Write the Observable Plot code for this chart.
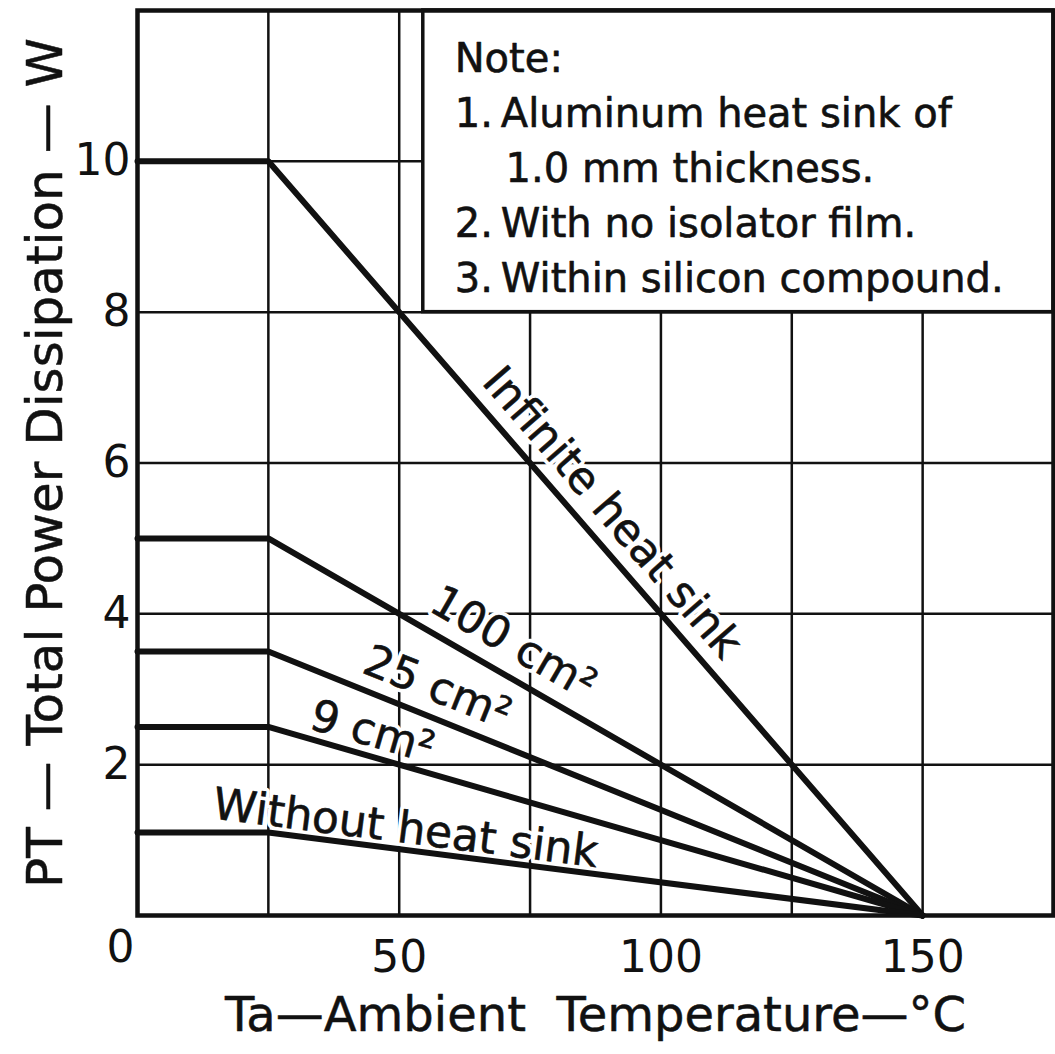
<!DOCTYPE html>
<html><head><meta charset="utf-8">
<script src="https://cdn.jsdelivr.net/npm/d3@7"></script>
<script src="https://cdn.jsdelivr.net/npm/@observablehq/plot@0.6"></script>
<style>
html,body{margin:0;padding:0;background:#fff;}
#chart svg{display:block;}
g[aria-label="curve-label"] text, g[aria-label="curve-label-halo"] text {letter-spacing:1px;}
g[aria-label="y-title"] text {letter-spacing:1.5px;}
</style>
</head><body><div id="chart"></div>
<script>
// ---- data ----
const temps = [0, 25, 150];                 // Ta (°C) breakpoints
const infiniteSink = [10, 10, 0];           // W
const sink100 = [5, 5, 0];
const sink25 = [3.5, 3.5, 0];
const sink9 = [2.5, 2.5, 0];
const noSink = [1.1, 1.1, 0];
const seriesNames = ["Infinite heat sink", "100 cm²", "25 cm²", "9 cm²", "Without heat sink"];
const seriesValues = [infiniteSink, sink100, sink25, sink9, noSink];
const xTickLabels = [50, 100, 150];
const yTickLabels = [2, 4, 6, 8, 10];
const gridX = [25, 50, 75, 100, 125, 150];
const gridY = [2, 4, 6, 8, 10];
const cornerLabel = "0";
// label anchors (data coords) for curve annotations
const labelX = [90.7, 71.8, 57.3, 44.9, 51.2];
const labelY = [5.34, 3.61, 3.02, 2.43, 1.15];
const noteText = "Note:\n1.\u2009Aluminum heat sink of\n\u00a0\u00a0\u00a0\u00a01.0 mm thickness.\n2.\u2009With no isolator film.\n3.\u2009Within silicon compound.";
const noteBox = {x1: 54.6, x2: 175, y1: 8, y2: 12};
const xLabel = "Ta\u2014Ambient  Temperature\u2014°C";
const yLabel = "PT \u2014 Total Power Dissipation \u2014 W";

// ---- build ----
const W = 1055, H = 1054;
const mL = 137, mR = 2, mT = 10, mB = 139;
const xDomain = [0, 175], yDomain = [0, 12];
const pxX = (W - mL - mR) / (xDomain[1] - xDomain[0]);
const pxY = (H - mT - mB) / (yDomain[1] - yDomain[0]);

const lineData = [];
seriesNames.forEach((name, i) => {
  temps.forEach((t, j) => lineData.push({series: name, t, p: seriesValues[i][j]}));
});
const labels = seriesNames.map((name, i) => {
  const v = seriesValues[i];
  const ang = Math.atan2((v[1] - v[2]) * pxY, (temps[2] - temps[1]) * pxX) * 180 / Math.PI;
  return {text: name, x: labelX[i], y: labelY[i], rotate: ang};
});

const FONT = "DejaVu Sans";
const INK = "#111";
const chart = Plot.plot({
  width: W, height: H,
  marginLeft: mL, marginRight: mR, marginTop: mT, marginBottom: mB,
  x: {domain: xDomain},
  y: {domain: yDomain},
  style: {fontFamily: FONT, background: "#fff", color: INK, overflow: "visible"},
  marks: [
    Plot.ruleX(gridX, {stroke: INK, strokeWidth: 2.5}),
    Plot.ruleY(gridY, {stroke: INK, strokeWidth: 2.5}),
    Plot.rect([noteBox], {x1: "x1", x2: "x2", y1: "y1", y2: "y2", fill: "#fff", stroke: INK, strokeWidth: 3.5}),
    Plot.text([noteText], {x: noteBox.x1 + 6, y: noteBox.y2 - 0.3, text: d => d, textAnchor: "start", lineAnchor: "top", fontSize: 40, lineHeight: 1.375, fill: INK, stroke: INK, strokeWidth: 0.6}),
    Plot.text(labels, {x: "x", y: "y", text: "text", rotate: "rotate", fontSize: 44, fill: "#fff", stroke: "#fff", strokeWidth: 8, ariaLabel: "curve-label-halo"}),
    Plot.text(labels, {x: "x", y: "y", text: "text", rotate: "rotate", fontSize: 44, fill: INK, stroke: INK, strokeWidth: 0.6, ariaLabel: "curve-label"}),
    Plot.line(lineData, {x: "t", y: "p", z: "series", stroke: INK, strokeWidth: 6, strokeLinejoin: "round"}),
    Plot.frame({stroke: INK, strokeWidth: 4.5}),
    Plot.axisX({ticks: xTickLabels, tickSize: 0, tickPadding: 25, fontSize: 44, label: null, fill: INK}),
    Plot.axisY({ticks: yTickLabels, tickSize: 0, tickPadding: 7, fontSize: 44, label: null, fill: INK}),
    Plot.text([cornerLabel], {x: xDomain[0], y: yDomain[0], text: d => d, dx: -17, dy: 32, fontSize: 44, fill: INK}),
    Plot.text([xLabel], {frameAnchor: "bottom", lineAnchor: "middle", textAnchor: "middle", text: d => d, dy: 100, fontSize: 48, fill: INK, stroke: INK, strokeWidth: 0.5}),
    Plot.text([yLabel], {frameAnchor: "left", lineAnchor: "middle", textAnchor: "middle", text: d => d, dx: -92, rotate: -90, fontSize: 50, fill: INK, stroke: INK, strokeWidth: 0.5, ariaLabel: "y-title"})
  ]
});
document.getElementById("chart").appendChild(chart);
</script>
</body></html>
